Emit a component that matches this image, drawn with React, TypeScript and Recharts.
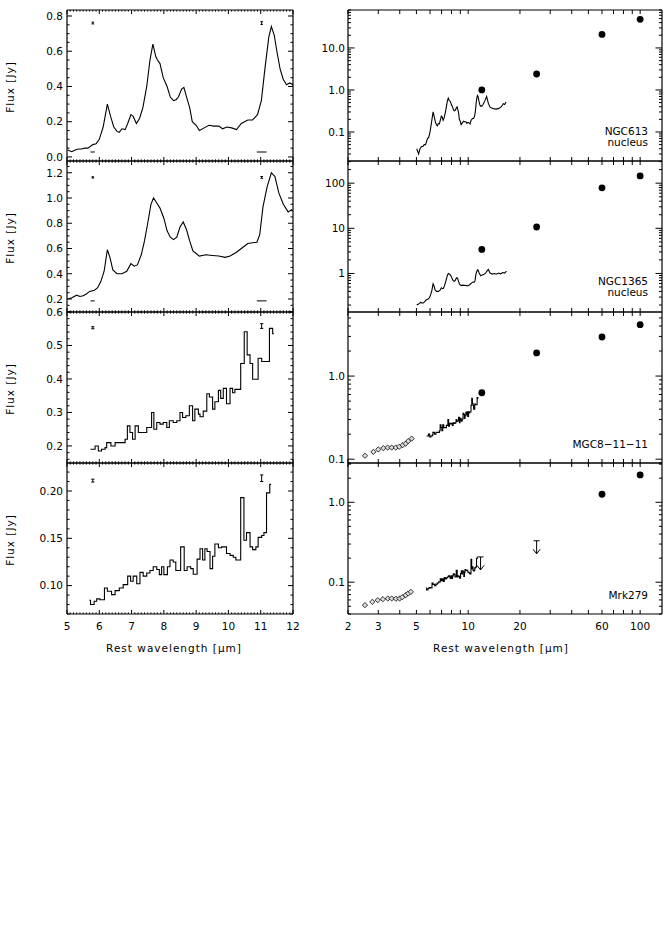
import React from 'react';
import { ComposedChart, Line, Scatter, XAxis, YAxis } from 'recharts';

const FONT = '"DejaVu Sans", Verdana, sans-serif';
const INK = '#000';

// ---------------- data (wavelength in µm, flux in Jy) ----------------
// NGC613 nucleus, low-resolution spectrum
const ngc613Wave = [5.02,5.15,5.25,5.35,5.45,5.55,5.65,5.8,5.9,6.0,6.12,6.25,6.35,6.45,6.55,6.62,6.7,6.8,6.88,6.98,7.05,7.15,7.25,7.35,7.47,7.57,7.66,7.75,7.8,7.88,7.98,8.1,8.2,8.3,8.38,8.45,8.55,8.62,8.72,8.8,8.88,9.0,9.1,9.25,9.4,9.55,9.7,9.82,9.95,10.1,10.25,10.4,10.6,10.75,10.9,11.02,11.13,11.25,11.33,11.42,11.5,11.6,11.7,11.8,11.9,12.0];
const ngc613Flux = [0.04,0.03,0.04,0.045,0.045,0.05,0.05,0.07,0.075,0.10,0.17,0.30,0.23,0.17,0.145,0.14,0.16,0.155,0.19,0.24,0.23,0.19,0.22,0.28,0.40,0.55,0.64,0.57,0.55,0.53,0.45,0.40,0.34,0.32,0.325,0.34,0.385,0.395,0.33,0.28,0.20,0.18,0.15,0.165,0.18,0.175,0.175,0.16,0.17,0.165,0.155,0.19,0.21,0.21,0.24,0.32,0.50,0.68,0.74,0.69,0.60,0.50,0.44,0.41,0.42,0.41];
// continuation beyond 12 µm (shown only in the SED panel)
const ngc613ExtWave = [12.2,12.5,12.8,13.1,13.4,13.7,14.0,14.3,14.6,14.9,15.2,15.6,16.0,16.3,16.6];
const ngc613ExtFlux = [0.45,0.55,0.70,0.48,0.39,0.37,0.36,0.355,0.35,0.36,0.37,0.40,0.47,0.45,0.52];

// NGC1365 nucleus
const ngc1365Wave = [5.02,5.15,5.3,5.4,5.5,5.6,5.7,5.85,5.95,6.05,6.15,6.25,6.33,6.42,6.55,6.7,6.85,6.98,7.08,7.18,7.3,7.4,7.5,7.6,7.68,7.78,7.88,8.0,8.1,8.2,8.3,8.4,8.5,8.6,8.7,8.8,8.9,9.0,9.1,9.3,9.5,9.7,9.9,10.05,10.25,10.45,10.6,10.88,10.97,11.07,11.2,11.33,11.44,11.56,11.7,11.85,11.97];
const ngc1365Flux = [0.20,0.21,0.23,0.22,0.225,0.24,0.26,0.27,0.29,0.34,0.42,0.59,0.53,0.43,0.40,0.40,0.42,0.48,0.46,0.47,0.55,0.66,0.80,0.95,1.00,0.96,0.92,0.84,0.74,0.69,0.67,0.69,0.77,0.81,0.75,0.66,0.58,0.56,0.54,0.55,0.545,0.54,0.53,0.54,0.57,0.61,0.64,0.65,0.71,0.93,1.09,1.20,1.17,1.04,0.95,0.89,0.91];
const ngc1365ExtWave = [12.3,12.6,12.9,13.1,13.4,13.8,14.2,14.6,15.0,15.4,15.9,16.3,16.7];
const ngc1365ExtFlux = [0.95,1.0,1.15,1.22,1.02,0.97,1.0,0.96,1.02,0.98,1.05,1.02,1.12];

// MGC8-11-11 (binned spectrum: bin start, flux)
const mgcWave = [5.73,5.87,5.97,6.07,6.18,6.23,6.36,6.49,6.80,6.87,6.95,7.03,7.11,7.21,7.31,7.47,7.62,7.69,7.78,7.88,7.98,8.09,8.17,8.29,8.40,8.50,8.58,8.68,8.79,8.89,8.96,9.07,9.12,9.22,9.33,9.41,9.51,9.58,9.69,9.76,9.84,9.94,10.05,10.13,10.20,10.38,10.49,10.58,10.67,10.75,10.92,11.03,11.27,11.37,11.41];
const mgcFlux = [0.19,0.20,0.185,0.19,0.195,0.21,0.20,0.21,0.22,0.26,0.24,0.22,0.26,0.24,0.24,0.255,0.30,0.25,0.27,0.265,0.27,0.255,0.275,0.27,0.275,0.30,0.285,0.29,0.32,0.275,0.31,0.295,0.287,0.304,0.356,0.346,0.31,0.332,0.366,0.342,0.372,0.326,0.372,0.359,0.369,0.446,0.541,0.472,0.446,0.399,0.462,0.452,0.551,0.535,0.535];

// Mrk279 (binned spectrum)
const mrkWave = [5.69,5.73,5.84,5.92,6.02,6.16,6.25,6.38,6.49,6.62,6.74,6.88,6.97,7.05,7.16,7.26,7.36,7.47,7.57,7.67,7.78,7.86,7.93,8.00,8.11,8.19,8.29,8.37,8.52,8.63,8.72,8.83,8.91,9.03,9.12,9.20,9.27,9.34,9.43,9.51,9.58,9.69,9.79,9.94,10.05,10.15,10.23,10.38,10.48,10.56,10.67,10.75,10.85,10.92,11.03,11.10,11.18,11.28,11.32];
const mrkFlux = [0.0845,0.080,0.0834,0.086,0.085,0.0975,0.094,0.0905,0.0947,0.0975,0.101,0.110,0.1046,0.110,0.102,0.114,0.110,0.1134,0.116,0.120,0.117,0.1116,0.120,0.1116,0.120,0.127,0.125,0.116,0.141,0.116,0.120,0.118,0.112,0.128,0.139,0.127,0.139,0.136,0.118,0.131,0.144,0.140,0.141,0.134,0.132,0.130,0.127,0.193,0.148,0.156,0.141,0.138,0.141,0.151,0.153,0.156,0.198,0.207,0.207];

// short-wavelength photometry (diamonds)
const mgcShortWave = [2.51,2.81,3.00,3.21,3.40,3.59,3.79,3.97,4.16,4.33,4.48,4.69];
const mgcShortFlux = [0.110,0.1225,0.131,0.136,0.138,0.138,0.138,0.141,0.1475,0.154,0.165,0.177];
const mrkShortWave = [2.51,2.77,2.98,3.19,3.41,3.59,3.80,3.99,4.13,4.33,4.48,4.64];
const mrkShortFlux = [0.0516,0.0568,0.0596,0.0613,0.0625,0.0625,0.062,0.0625,0.065,0.0688,0.0722,0.0757];

// IRAS photometry
const irasWave = [12, 25, 60, 100];
const ngc613Iras = [1.0, 2.4, 21, 48];
const ngc1365Iras = [3.4, 10.7, 79, 145];
const mgcIras = [0.63, 1.9, 2.95, 4.15];
const mrkIrasWave = [60, 100];
const mrkIras = [1.26, 2.2];
const mrkLimitWave = [11.8, 25];
const mrkLimitFlux = [0.207, 0.33];

// error / resolution markers in the spectral panels
const errWave = [5.8, 11.03];
const p1ErrLo = [0.755, 0.752], p1ErrHi = [0.765, 0.768];
const p2ErrLo = [1.158, 1.156], p2ErrHi = [1.168, 1.170];
const p3ErrLo = [0.550, 0.551], p3ErrHi = [0.556, 0.565];
const p4ErrLo = [0.2095, 0.2100], p4ErrHi = [0.2125, 0.2170];
const resStart = [5.73, 10.88];
const resEnd = [5.86, 11.18];
const p1ResY = [0.028, 0.028];
const p2ResY = [0.185, 0.185];

// axis ticks and labels
const leftXMajors = [5, 6, 7, 8, 9, 10, 11, 12];
const leftXLabels = ['5', '6', '7', '8', '9', '10', '11', '12'];
const p1YMajors = [0, 0.2, 0.4, 0.6, 0.8];
const p1YLabels = ['0.0', '0.2', '0.4', '0.6', '0.8'];
const p2YMajors = [0.2, 0.4, 0.6, 0.8, 1.0, 1.2];
const p2YLabels = ['0.2', '0.4', '0.6', '0.8', '1.0', '1.2'];
const p3YMajors = [0.2, 0.3, 0.4, 0.5, 0.6];
const p3YLabels = ['0.2', '0.3', '0.4', '0.5', '0.6'];
const p4YMajors = [0.10, 0.15, 0.20];
const p4YLabels = ['0.10', '0.15', '0.20'];

const rightXTicks = [2, 3, 4, 5, 6, 7, 8, 9, 10, 20, 30, 40, 50, 60, 70, 80, 90, 100];
const rightXMajors = [2, 3, 5, 10, 20, 60, 100];
const rightXLabels = ['2', '3', '5', '10', '20', '60', '100'];
const r1YMajors = [0.1, 1, 10];
const r1YLabels = ['0.1', '1.0', '10.0'];
const r2YMajors = [1, 10, 100];
const r2YLabels = ['1', '10', '100'];
const r3YMajors = [0.1, 1];
const r3YLabels = ['0.1', '1.0'];
const r4YMajors = [0.1, 1];
const r4YLabels = ['0.1', '1.0'];

// ---------------- helpers ----------------
const pts = (xs: number[], ys: number[]) => xs.map((x, i) => ({ x, y: ys[i] }));
const errSegs = (xs: number[], lo: number[], hi: number[], cap: number) =>
  xs.flatMap((x, i) => [
    { x: x - cap, y: hi[i] }, { x: x + cap, y: hi[i] }, { x, y: null },
    { x, y: lo[i] }, { x, y: hi[i] }, { x, y: null },
    { x: x - cap, y: lo[i] }, { x: x + cap, y: lo[i] }, { x, y: null },
  ]);
const resSegs = (a: number[], b: number[], ys: number[]) =>
  a.flatMap((x, i) => [{ x, y: ys[i] }, { x: b[i], y: ys[i] }, { x: b[i], y: null }]);

const r6 = (v: number) => Math.round(v * 1e6) / 1e6;
const linTicks = (a: number, b: number, step: number) => {
  const out: number[] = [];
  for (let k = Math.ceil(a / step - 1e-9); k * step <= b + 1e-9; k++) out.push(r6(k * step));
  return out;
};
const logTicks = (a: number, b: number) => {
  const out: number[] = [];
  for (let d = Math.floor(Math.log10(a)); d <= Math.ceil(Math.log10(b)); d++) {
    for (let m = 1; m <= 9; m++) {
      const v = Number((m * Math.pow(10, d)).toPrecision(6));
      if (v >= a && v <= b) out.push(v);
    }
  }
  return out;
};

type Orient = 'bottom' | 'top' | 'left' | 'right';
type Spec = { ticks: number[]; majors: number[]; labels?: string[]; majorLen: number; minorLen: number; margin: number; fontSize?: number };

const makeTick = (orient: Orient, spec: Spec) => (props: any) => {
  const { x, y, payload } = props;
  const v = Number(payload.value);
  const idx = spec.majors.findIndex((m) => Math.abs(m - v) <= 1e-6 * Math.max(Math.abs(m), 1e-3));
  const major = idx >= 0;
  const len = major ? spec.majorLen : spec.minorLen;
  const fs = spec.fontSize ?? 10;
  const label = spec.labels && major ? spec.labels[idx] : null;
  const txt = { fontFamily: FONT, fontSize: fs, fill: INK } as any;
  if (orient === 'bottom') {
    const ay = y - spec.margin;
    return (
      <g>
        <line x1={x} x2={x} y1={ay} y2={ay - len} stroke={INK} strokeWidth={1} />
        {label && <text x={x} y={y} dy="0.72em" textAnchor="middle" {...txt}>{label}</text>}
      </g>
    );
  }
  if (orient === 'top') {
    const ay = y + spec.margin;
    return <line x1={x} x2={x} y1={ay} y2={ay + len} stroke={INK} strokeWidth={1} />;
  }
  if (orient === 'left') {
    const ax = x + spec.margin;
    return (
      <g>
        <line x1={ax} x2={ax + len} y1={y} y2={y} stroke={INK} strokeWidth={1} />
        {label && <text x={x} y={y} dy="0.36em" textAnchor="end" {...txt}>{label}</text>}
      </g>
    );
  }
  const ax = x - spec.margin;
  return <line x1={ax} x2={ax - len} y1={y} y2={y} stroke={INK} strokeWidth={1} />;
};

type PanelProps = {
  left: number; top: number; width: number; height: number;
  yAxisWidth: number; marginRight: number; bottomHeight: number; marginBottom: number;
  xScale: 'linear' | 'log'; yScale: 'linear' | 'log';
  xDomain: [number, number]; yDomain: [number, number];
  xSpec: Spec; ySpec: Spec;
  children: React.ReactNode;
};

function Panel(p: PanelProps) {
  const axisLine = { stroke: INK, strokeWidth: 1.2 };
  const xTop: Spec = { ...p.xSpec, labels: undefined, margin: 0 };
  const yRight: Spec = { ...p.ySpec, labels: undefined, margin: 0 };
  return (
    <div style={{ position: 'absolute', left: p.left, top: p.top, width: p.width, height: p.height }}>
      <ComposedChart width={p.width} height={p.height} margin={{ top: 9, right: p.marginRight, bottom: p.marginBottom, left: 0 }}>
        <XAxis xAxisId="b" orientation="bottom" type="number" dataKey="x" scale={p.xScale} domain={p.xDomain} allowDataOverflow
          ticks={p.xSpec.ticks} interval={0} tickSize={0} tickMargin={p.xSpec.margin} tickLine={false} axisLine={axisLine}
          height={p.bottomHeight} tick={makeTick('bottom', p.xSpec)} />
        <XAxis xAxisId="t" orientation="top" type="number" dataKey="x" scale={p.xScale} domain={p.xDomain} allowDataOverflow
          ticks={p.xSpec.ticks} interval={0} tickSize={0} tickMargin={0} tickLine={false} axisLine={axisLine}
          height={1} tick={makeTick('top', xTop)} />
        <YAxis yAxisId="l" orientation="left" type="number" dataKey="y" scale={p.yScale} domain={p.yDomain} allowDataOverflow
          ticks={p.ySpec.ticks} interval={0} tickSize={0} tickMargin={p.ySpec.margin} tickLine={false} axisLine={axisLine}
          width={p.yAxisWidth} tick={makeTick('left', p.ySpec)} />
        <YAxis yAxisId="r" orientation="right" type="number" dataKey="y" scale={p.yScale} domain={p.yDomain} allowDataOverflow
          ticks={p.ySpec.ticks} interval={0} tickSize={0} tickMargin={0} tickLine={false} axisLine={axisLine}
          width={1} tick={makeTick('right', yRight)} />
        {p.children}
      </ComposedChart>
    </div>
  );
}

const Dot = (s: any) => <circle cx={s.cx} cy={s.cy} r={3.4} fill={INK} />;
const Diamond = (s: any) => {
  const r = 2.6;
  return <path d={`M${s.cx},${s.cy - r}L${s.cx + r},${s.cy}L${s.cx},${s.cy + r}L${s.cx - r},${s.cy}Z`} fill="#ddd" stroke={INK} strokeWidth={0.8} />;
};
const LimitArrow = (s: any) => {
  const { cx, cy } = s;
  const L = 13;
  return (
    <g stroke={INK} strokeWidth={1} fill="none">
      <line x1={cx - 3} x2={cx + 3} y1={cy} y2={cy} />
      <line x1={cx} x2={cx} y1={cy} y2={cy + L} />
      <polyline points={`${cx - 3.5},${cy + L - 4.5} ${cx},${cy + L} ${cx + 3.5},${cy + L - 4.5}`} />
    </g>
  );
};

const lineProps = { xAxisId: 'b', yAxisId: 'l', dataKey: 'y', dot: false, stroke: INK, strokeWidth: 1.1, isAnimationActive: false, connectNulls: false, activeDot: false } as any;
const markProps = { xAxisId: 'b', yAxisId: 'l', dataKey: 'y', dot: false, stroke: INK, strokeWidth: 1, isAnimationActive: false, connectNulls: false, activeDot: false } as any;
const scatterProps = { xAxisId: 'b', yAxisId: 'l', dataKey: 'y', isAnimationActive: false } as any;

// ---------------- layout ----------------
const rowTops = [10, 161, 312, 463];
const ROW_H = 151;
const LEFT_W = 300;
const RIGHT_X = 300;
const RIGHT_W = 368;

const leftXDomain: [number, number] = [5, 12];
const rightXDomain: [number, number] = [2, 134];
const leftXSpec = (bottom: boolean): Spec => ({
  ticks: linTicks(5, 12, 0.1), majors: leftXMajors, labels: bottom ? leftXLabels : undefined,
  majorLen: 4, minorLen: 1.6, margin: bottom ? 8 : 0, fontSize: 10.5,
});
const rightXSpec = (bottom: boolean): Spec => ({
  ticks: rightXTicks, majors: rightXMajors, labels: bottom ? rightXLabels : undefined,
  majorLen: 4, minorLen: 4, margin: bottom ? 8 : 0, fontSize: 10.5,
});

const leftPanels = [
  { yDomain: [-0.023, 0.834] as [number, number], ticks: linTicks(-0.023, 0.834, 0.05), majors: p1YMajors, labels: p1YLabels },
  { yDomain: [0.097, 1.293] as [number, number], ticks: linTicks(0.097, 1.293, 0.05), majors: p2YMajors, labels: p2YLabels },
  { yDomain: [0.149, 0.6] as [number, number], ticks: linTicks(0.149, 0.6, 0.02), majors: p3YMajors, labels: p3YLabels },
  { yDomain: [0.070, 0.2296] as [number, number], ticks: linTicks(0.070, 0.2296, 0.01), majors: p4YMajors, labels: p4YLabels },
];
const rightPanels = [
  { yDomain: [0.0204, 80] as [number, number], majors: r1YMajors, labels: r1YLabels },
  { yDomain: [0.14, 310] as [number, number], majors: r2YMajors, labels: r2YLabels },
  { yDomain: [0.09, 5.9] as [number, number], majors: r3YMajors, labels: r3YLabels },
  { yDomain: [0.04, 3.1] as [number, number], majors: r4YMajors, labels: r4YLabels },
];

const leftSeries = [
  [
    <Line key="s" {...lineProps} data={pts(ngc613Wave, ngc613Flux)} type="linear" />,
    <Line key="e" {...markProps} data={errSegs(errWave, p1ErrLo, p1ErrHi, 0.04)} />,
    <Line key="r" {...markProps} data={resSegs(resStart, resEnd, p1ResY)} />,
  ],
  [
    <Line key="s" {...lineProps} data={pts(ngc1365Wave, ngc1365Flux)} type="linear" />,
    <Line key="e" {...markProps} data={errSegs(errWave, p2ErrLo, p2ErrHi, 0.04)} />,
    <Line key="r" {...markProps} data={resSegs(resStart, resEnd, p2ResY)} />,
  ],
  [
    <Line key="s" {...lineProps} data={pts(mgcWave, mgcFlux)} type="stepAfter" />,
    <Line key="e" {...markProps} data={errSegs(errWave, p3ErrLo, p3ErrHi, 0.05)} />,
  ],
  [
    <Line key="s" {...lineProps} data={pts(mrkWave, mrkFlux)} type="stepAfter" />,
    <Line key="e" {...markProps} data={errSegs(errWave, p4ErrLo, p4ErrHi, 0.05)} />,
  ],
];

const rightSeries = [
  [
    <Line key="s" {...lineProps} data={[...pts(ngc613Wave, ngc613Flux), ...pts(ngc613ExtWave, ngc613ExtFlux)]} type="linear" />,
    <Scatter key="d" {...scatterProps} data={pts(irasWave, ngc613Iras)} shape={Dot} />,
  ],
  [
    <Line key="s" {...lineProps} data={[...pts(ngc1365Wave, ngc1365Flux), ...pts(ngc1365ExtWave, ngc1365ExtFlux)]} type="linear" />,
    <Scatter key="d" {...scatterProps} data={pts(irasWave, ngc1365Iras)} shape={Dot} />,
  ],
  [
    <Line key="s" {...lineProps} data={pts(mgcWave, mgcFlux)} type="stepAfter" />,
    <Scatter key="q" {...scatterProps} data={pts(mgcShortWave, mgcShortFlux)} shape={Diamond} />,
    <Scatter key="d" {...scatterProps} data={pts(irasWave, mgcIras)} shape={Dot} />,
  ],
  [
    <Line key="s" {...lineProps} data={pts(mrkWave, mrkFlux)} type="stepAfter" />,
    <Scatter key="q" {...scatterProps} data={pts(mrkShortWave, mrkShortFlux)} shape={Diamond} />,
    <Scatter key="d" {...scatterProps} data={pts(mrkIrasWave, mrkIras)} shape={Dot} />,
    <Scatter key="u" {...scatterProps} data={pts(mrkLimitWave, mrkLimitFlux)} shape={LimitArrow} />,
  ],
];

const objectLabels = [
  ['NGC613', 'nucleus'],
  ['NGC1365', 'nucleus'],
  ['MGC8\u221211\u221211'],
  ['Mrk279'],
];
const objectLabelCenters = [132, 282, 445, 596];

const textStyle: React.CSSProperties = { position: 'absolute', fontFamily: FONT, color: INK, whiteSpace: 'nowrap' };

export default function App() {
  return (
    <div style={{ position: 'absolute', left: 0, top: 0, width: 668, height: 945, background: '#fff', overflow: 'hidden' }}>
      {rowTops.map((rt, i) => {
        const bottom = i === 3;
        const h = bottom ? ROW_H + 10 + 55 : ROW_H + 20;
        const lp = leftPanels[i];
        const rp = rightPanels[i];
        return (
          <React.Fragment key={i}>
            <Panel left={0} top={rt - 10} width={LEFT_W} height={h} yAxisWidth={67} marginRight={6}
              bottomHeight={bottom ? 46 : 1} marginBottom={9} xScale="linear" yScale="linear"
              xDomain={leftXDomain} yDomain={lp.yDomain} xSpec={leftXSpec(bottom)}
              ySpec={{ ticks: lp.ticks, majors: lp.majors, labels: lp.labels, majorLen: 5, minorLen: 2.5, margin: 4, fontSize: 10.5 }}>
              {leftSeries[i]}
            </Panel>
            <Panel left={RIGHT_X} top={rt - 10} width={RIGHT_W} height={h} yAxisWidth={48} marginRight={5}
              bottomHeight={bottom ? 46 : 1} marginBottom={9} xScale="log" yScale="log"
              xDomain={rightXDomain} yDomain={rp.yDomain} xSpec={rightXSpec(bottom)}
              ySpec={{ ticks: logTicks(rp.yDomain[0], rp.yDomain[1]), majors: rp.majors, labels: rp.labels, majorLen: 6.5, minorLen: 3, margin: 3, fontSize: 10.5 }}>
              {rightSeries[i]}
            </Panel>
            <div style={{ ...textStyle, left: 9.5, top: rt + ROW_H / 2 + 1, fontSize: 10.5, letterSpacing: 1, transform: 'translate(-50%, -50%) rotate(-90deg)' }}>
              Flux [Jy]
            </div>
            <div style={{ ...textStyle, left: 498, width: 150, textAlign: 'right', top: objectLabelCenters[i] - 6, fontSize: 10.5, lineHeight: '11px' }}>
              {objectLabels[i].map((t, k) => <div key={k}>{t}</div>)}
            </div>
          </React.Fragment>
        );
      })}
      <div style={{ ...textStyle, left: 174, top: 648, fontSize: 10.5, letterSpacing: 1, transform: 'translate(-50%, -50%)' }}>
        Rest wavelength [μm]
      </div>
      <div style={{ ...textStyle, left: 501, top: 648, fontSize: 10.5, letterSpacing: 1, transform: 'translate(-50%, -50%)' }}>
        Rest wavelength [μm]
      </div>
    </div>
  );
}
